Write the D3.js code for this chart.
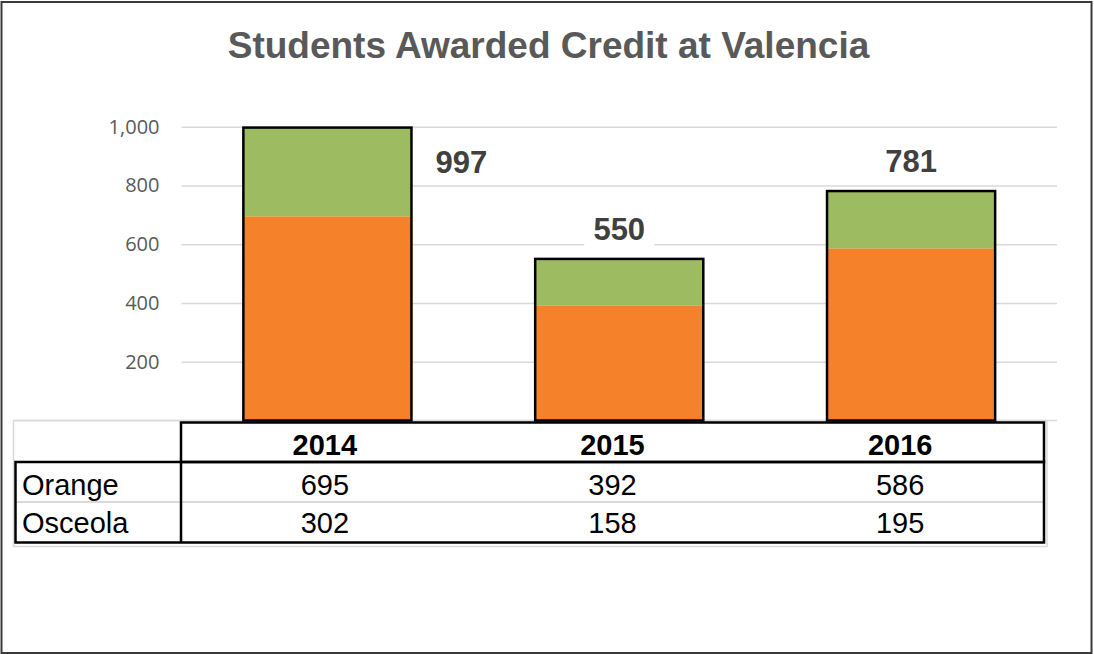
<!DOCTYPE html>
<html lang="en">
<head>
  <meta charset="utf-8">
  <title>Students Awarded Credit at Valencia</title>
  <script src="https://d3js.org/d3.v7.min.js"></script>
  <style>
    body {
      margin: 0;
      background: #fff;
    }
    .grid line {
      stroke: #d9d9d9;
      stroke-width: 1.5;
    }
    .grid text {
      font-family: "Open Sans", sans-serif;
      font-size: 20px;
      fill: #595959;
    }
  </style>
</head>
<body>

<svg id="chart" width="1094" height="654"></svg>

<script>
  // Données
  const years = ["2014", "2015", "2016"];
  const seriesNames = ["Orange", "Osceola"];
  const orangeValues = [695, 392, 586];
  const osceolaValues = [302, 158, 195];
  const yTicks = [200, 400, 600, 800, 1000];

  const colors = { Orange: "#f5822a", Osceola: "#9dbb61" };

  // Zone du graphique
  const plotLeft = 181.5, plotRight = 1057,
        plotTop = 126.7, plotBottom = 420.5;

  // Zone du tableau
  const tabLeft = 15.5, tabColLeft = 181, tabRight = 1044,
        tabTop = 422.5, headBottom = 462, rowMid = 502, tabBottom = 542.5;

  const svg = d3.select("#chart");

  // Cadre extérieur
  svg.append("rect")
    .attr("x", 1.5).attr("y", 2)
    .attr("width", 1090).attr("height", 651)
    .attr("fill", "none")
    .attr("stroke", "#3a3a3a")
    .attr("stroke-width", 2);

  // Titre
  svg.append("text")
    .attr("x", 548.5).attr("y", 58)
    .attr("text-anchor", "middle")
    .attr("font-family", "'Liberation Sans', Arial, sans-serif")
    .attr("font-weight", "bold")
    .attr("font-size", 37)
    .attr("fill", "#595959")
    .text("Students Awarded Credit at Valencia");

  // Echelles
  const x = d3.scaleBand()
    .domain(years)
    .range([plotLeft, plotRight])
    .paddingInner(0.424)
    .paddingOuter(0.212);

  const y = d3.scaleLinear()
    .domain([0, 1000])
    .range([plotBottom, plotTop]);

  // Grille + étiquettes de l'axe Y
  const yAxis = d3.axisLeft(y)
    .tickValues(yTicks)
    .tickSize(-(plotRight - plotLeft))
    .tickPadding(22)
    .tickFormat(d3.format(","));

  svg.append("g")
    .attr("class", "grid")
    .attr("transform", `translate(${plotLeft},0)`)
    .call(yAxis)
    .call(g => g.select(".domain").remove());

  // Ligne zéro + cadre gris du tableau
  svg.append("line")
    .attr("x1", 13.5).attr("x2", plotRight)
    .attr("y1", y(0)).attr("y2", y(0))
    .attr("stroke", "#d9d9d9").attr("stroke-width", 1.5);

  svg.append("rect")
    .attr("x", 13.5).attr("y", y(0))
    .attr("width", 1047 - 13.5).attr("height", 546.5 - y(0))
    .attr("fill", "none")
    .attr("stroke", "#d9d9d9").attr("stroke-width", 1.5);

  // Barres empilées
  const table = years.map((yr, i) => ({
    year: yr,
    Orange: orangeValues[i],
    Osceola: osceolaValues[i]
  }));

  const stacked = d3.stack().keys(seriesNames)(table);

  svg.append("g")
    .selectAll("g")
    .data(stacked)
    .join("g")
    .attr("fill", d => colors[d.key])
    .selectAll("rect")
    .data(d => d)
    .join("rect")
    .attr("x", d => x(d.data.year))
    .attr("y", d => y(d[1]))
    .attr("width", x.bandwidth())
    .attr("height", d => y(d[0]) - y(d[1]));

  // Contour noir autour de chaque barre
  const totals = table.map(d => ({ year: d.year, total: d.Orange + d.Osceola }));

  svg.append("g")
    .selectAll("rect")
    .data(totals)
    .join("rect")
    .attr("x", d => x(d.year))
    .attr("y", d => y(d.total))
    .attr("width", x.bandwidth())
    .attr("height", d => y(0) - y(d.total))
    .attr("fill", "none")
    .attr("stroke", "#000")
    .attr("stroke-width", 2.5);

  // Etiquettes des totaux (la première est décalée à droite de la barre)
  const labelX = (d, i) => i === 0
    ? x(d.year) + x.bandwidth() + 50
    : x(d.year) + x.bandwidth() / 2;
  const labelY = (d, i) => i === 0 ? y(d.total) + 45.5 : y(d.total) - 19;

  const labels = svg.append("g")
    .selectAll("g")
    .data(totals)
    .join("g")
    .attr("transform", (d, i) => `translate(${labelX(d, i)},${labelY(d, i)})`);

  labels.append("rect")
    .attr("x", -35).attr("y", -28)
    .attr("width", 70).attr("height", 34)
    .attr("fill", "#fff");

  labels.append("text")
    .attr("text-anchor", "middle")
    .attr("font-family", "'Liberation Sans', Arial, sans-serif")
    .attr("font-weight", "bold")
    .attr("font-size", 31)
    .attr("fill", "#404040")
    .text(d => d.total);

  // Tableau de données
  const col = d3.scaleBand()
    .domain(years)
    .range([tabColLeft, tabRight]);

  const tab = svg.append("g")
    .attr("font-family", "'Liberation Sans', Arial, sans-serif")
    .attr("font-size", 29)
    .attr("fill", "#000");

  // séparateur gris entre les lignes
  tab.append("line")
    .attr("x1", tabLeft).attr("x2", tabRight)
    .attr("y1", rowMid).attr("y2", rowMid)
    .attr("stroke", "#d9d9d9").attr("stroke-width", 2);

  // cadres noirs
  tab.append("rect")
    .attr("x", tabColLeft).attr("y", tabTop)
    .attr("width", tabRight - tabColLeft).attr("height", headBottom - tabTop)
    .attr("fill", "none").attr("stroke", "#000").attr("stroke-width", 2.5);

  tab.append("rect")
    .attr("x", tabLeft).attr("y", headBottom)
    .attr("width", tabRight - tabLeft).attr("height", tabBottom - headBottom)
    .attr("fill", "none").attr("stroke", "#000").attr("stroke-width", 2.5);

  tab.append("line")
    .attr("x1", tabColLeft).attr("x2", tabColLeft)
    .attr("y1", headBottom).attr("y2", tabBottom)
    .attr("stroke", "#000").attr("stroke-width", 2.5);

  // en-têtes années
  tab.selectAll(".head")
    .data(years)
    .join("text")
    .attr("class", "head")
    .attr("x", d => col(d) + col.bandwidth() / 2)
    .attr("y", 455)
    .attr("text-anchor", "middle")
    .attr("font-weight", "bold")
    .text(d => d);

  // lignes de valeurs
  const rows = [
    { name: seriesNames[0], values: orangeValues, base: 495 },
    { name: seriesNames[1], values: osceolaValues, base: 533 }
  ];

  rows.forEach(r => {
    tab.append("text")
      .attr("x", 22)
      .attr("y", r.base)
      .text(r.name);

    tab.selectAll(null)
      .data(r.values)
      .join("text")
      .attr("x", (d, i) => col(years[i]) + col.bandwidth() / 2)
      .attr("y", r.base)
      .attr("text-anchor", "middle")
      .text(d => d);
  });
</script>
</body>
</html>
